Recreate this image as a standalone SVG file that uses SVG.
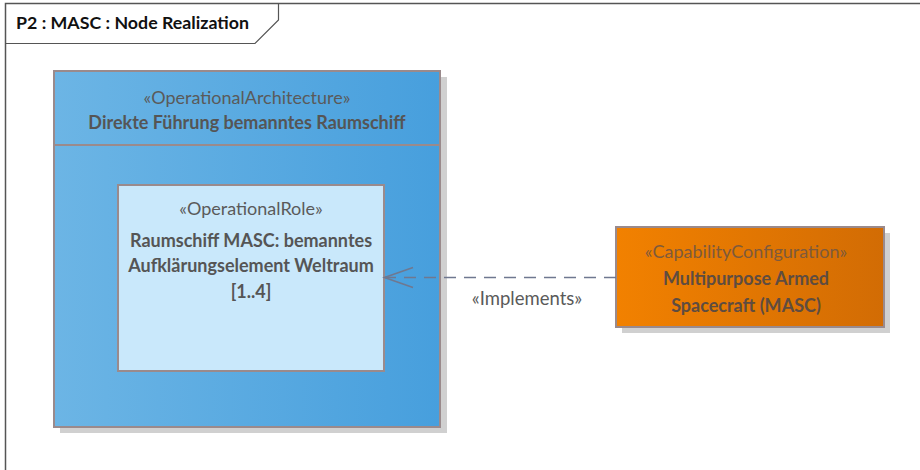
<svg xmlns="http://www.w3.org/2000/svg" width="920" height="470" viewBox="0 0 920 470">
<style>
text{font-family:Lato,"Open Sans","Liberation Sans",sans-serif;}
.st{font-size:18px;fill:#5a5a5a;text-anchor:middle;}
.nm{font-size:18px;font-weight:bold;fill:#555555;text-anchor:middle;}
.st2{font-size:18px;fill:#7e5a3c;text-anchor:middle;}
.nm2{font-size:18px;font-weight:bold;fill:#5e4c40;text-anchor:middle;}
.box{stroke:#9a8a8c;stroke-width:2;}
.shadow{fill:#d0d0d0;}
.conn{fill:none;stroke:#6f7890;stroke-width:1.6;}
</style>
<defs>
<linearGradient id="gBlue" x1="0" y1="0" x2="1" y2="0">
<stop offset="0" stop-color="#6cb5e5"/>
<stop offset="1" stop-color="#479fdd"/>
</linearGradient>
<linearGradient id="gOrange" x1="0" y1="0" x2="1" y2="0">
<stop offset="0" stop-color="#f28100"/>
<stop offset="1" stop-color="#d26c04"/>
</linearGradient>
</defs>
<rect width="920" height="470" fill="#ffffff"/>
<g id="frame">
<path d="M5.5,470 V3.5 H920" fill="none" stroke="#555" stroke-width="1.5"/>
<path d="M5.5,43.5 H255 L278.5,20 V3.5" fill="none" stroke="#555" stroke-width="1.2"/>
<text x="16" y="29" style="font-size:17.8px;font-weight:bold;fill:#111;">P2 : MASC : Node Realization</text>
</g>
<g id="operationalArchitecture">
<rect class="shadow" x="60" y="77" width="387" height="356"/>
<rect class="box" x="54" y="71" width="386" height="356" fill="url(#gBlue)"/>
<line x1="54" y1="145" x2="440" y2="145" stroke="#9a8a8c" stroke-width="2"/>
<text class="st" x="247" y="104">«OperationalArchitecture»</text>
<text class="nm" x="247" y="129">Direkte Führung bemanntes Raumschiff</text>
</g>
<g id="operationalRole">
<rect class="box" x="118" y="185" width="266" height="186" fill="#c9e8fb"/>
<text class="st" x="251" y="215">«OperationalRole»</text>
<text class="nm" x="251" y="247">Raumschiff MASC: bemanntes</text>
<text class="nm" x="251" y="272">Aufklärungselement Weltraum</text>
<text class="nm" x="251" y="298">[1..4]</text>
</g>
<g id="capabilityConfiguration">
<rect class="shadow" x="622" y="233" width="268" height="100"/>
<rect class="box" x="616" y="227" width="268" height="100" fill="url(#gOrange)"/>
<text class="st2" x="746" y="258">«CapabilityConfiguration»</text>
<text class="nm2" x="746" y="285">Multipurpose Armed</text>
<text class="nm2" x="746" y="312">Spacecraft (MASC)</text>
</g>
<g id="connectors">
<path class="conn" d="M616,277.5 H385" stroke-dasharray="12,8"/>
<path class="conn" d="M413,267.5 L384.5,277.5 L413,287.5"/>
<text x="527" y="305" style="font-size:18.5px;fill:#5a5a5a;text-anchor:middle;">«Implements»</text>
</g>
</svg>
